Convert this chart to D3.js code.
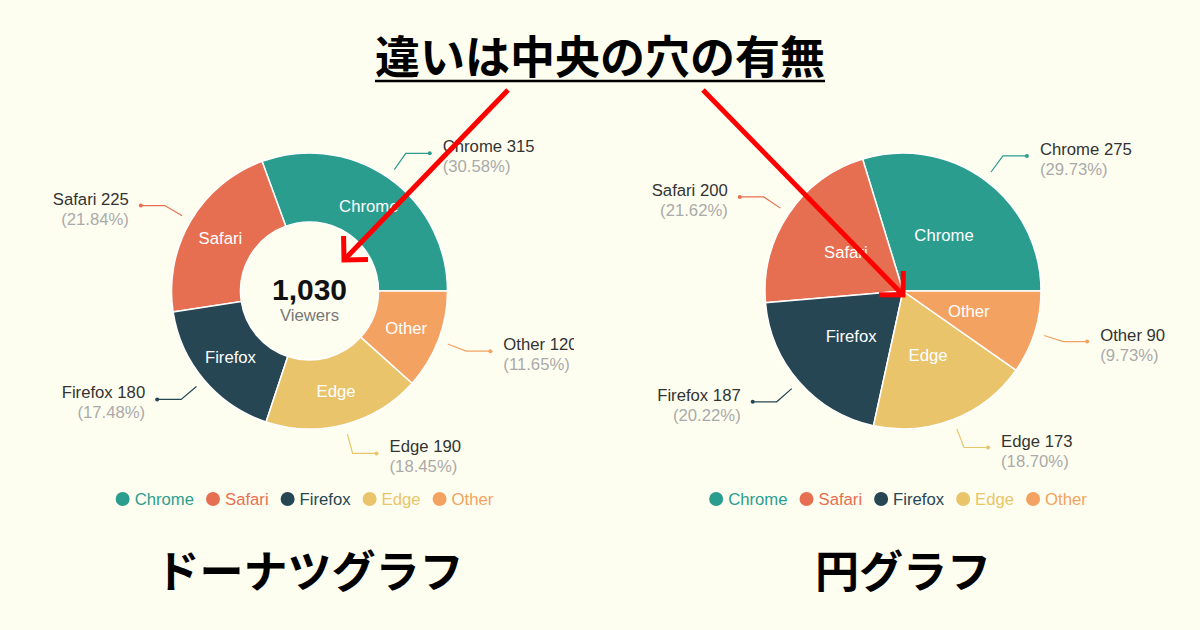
<!DOCTYPE html>
<html>
<head>
<meta charset="utf-8">
<script src="https://cdn.jsdelivr.net/npm/d3@7"></script>
<style>
  body { margin: 0; background: #fefef0; }
  svg { display: block; }
</style>
</head>
<body>
<div id="chart"></div>
<script>
const browsers = ["Chrome", "Safari", "Firefox", "Edge", "Other"];
const donutValues = [315, 225, 180, 190, 120];
const pieValues = [275, 200, 187, 173, 90];
const sliceColors = ["#2a9d8f", "#e76f51", "#264653", "#e9c46a", "#f4a261"];

const titleText = "違いは中央の穴の有無";
const donutTitle = "ドーナツグラフ";
const pieTitle = "円グラフ";
const centerLabel = "Viewers";

const width = 1200,
    height = 630,
    outerR = 138,
    chartY = 291,
    labelSize = "16.7px";

const latin = "'Liberation Sans', Arial, sans-serif";
const cjk = "'Noto Sans CJK JP', sans-serif";

const svg = d3.select("#chart")
    .append("svg")
    .attr("width", width)
    .attr("height", height);

svg.append("rect")
    .attr("width", width)
    .attr("height", height)
    .attr("fill", "#fefef0");

const color = d3.scaleOrdinal()
    .domain(browsers)
    .range(sliceColors);

const pct = d3.format(".2f");

function drawChart(values, cx, innerR, clipX0, clipX1, id, title) {
    const data = browsers.map((b, i) => ({ name: b, value: values[i] }));
    const total = d3.sum(values);

    svg.append("clipPath")
        .attr("id", id)
        .append("rect")
        .attr("x", clipX0)
        .attr("y", 0)
        .attr("width", clipX1 - clipX0)
        .attr("height", height);

    const g = svg.append("g")
        .attr("clip-path", `url(#${id})`)
        .append("g")
        .attr("transform", `translate(${cx}, ${chartY})`);

    const pie = d3.pie()
        .sort(null)
        .value(d => d.value)
        .startAngle(Math.PI / 2)
        .endAngle(Math.PI / 2 - 2 * Math.PI);
    const arcs = pie(data);

    const arc = d3.arc()
        .innerRadius(innerR)
        .outerRadius(outerR);

    g.selectAll("path.slice")
        .data(arcs)
        .join("path")
        .attr("class", "slice")
        .attr("d", arc)
        .attr("fill", d => color(d.data.name))
        .attr("stroke", "#fff")
        .style("stroke-width", "1.5px");

    g.selectAll("text.inner")
        .data(arcs)
        .join("text")
        .attr("class", "inner")
        .attr("transform", d => `translate(${arc.centroid(d)})`)
        .attr("text-anchor", "middle")
        .attr("dominant-baseline", "central")
        .style("font-family", latin)
        .style("font-size", labelSize)
        .style("fill", "#fff")
        .text(d => d.data.name);

    // leader lines + outside labels
    const pt = (a, r) => [r * Math.sin(a), -r * Math.cos(a)];
    arcs.forEach(d => {
        const mid = (d.startAngle + d.endAngle) / 2;
        const right = Math.sin(mid) >= 0;
        const p1 = pt(mid, outerR + 10);
        const p2 = pt(mid, outerR + 30);
        const p3 = [p2[0] + (right ? 24 : -24), p2[1]];
        const c = color(d.data.name);

        g.append("path")
            .attr("d", d3.line()([p1, p2, p3]))
            .attr("fill", "none")
            .attr("stroke", c)
            .style("stroke-width", "1.2px");
        g.append("circle")
            .attr("cx", p3[0])
            .attr("cy", p3[1])
            .attr("r", 2)
            .attr("fill", c);

        const tx = p3[0] + (right ? 13 : -12);
        const anchor = right ? "start" : "end";
        g.append("text")
            .attr("x", tx)
            .attr("y", p3[1] - 1)
            .attr("text-anchor", anchor)
            .style("font-family", latin)
            .style("font-size", labelSize)
            .style("fill", "#333")
            .text(d.data.name + " " + d.data.value);
        g.append("text")
            .attr("x", tx)
            .attr("y", p3[1] + 19)
            .attr("text-anchor", anchor)
            .style("font-family", latin)
            .style("font-size", labelSize)
            .style("fill", "#aaa")
            .text("(" + pct(d.data.value / total * 100) + "%)");
    });

    if (innerR > 0) {
        g.append("text")
            .attr("y", 9)
            .attr("text-anchor", "middle")
            .style("font-family", latin)
            .style("font-size", "30px")
            .style("font-weight", "bold")
            .style("fill", "#111")
            .text(d3.format(",")(total));
        g.append("text")
            .attr("y", 30)
            .attr("text-anchor", "middle")
            .style("font-family", latin)
            .style("font-size", labelSize)
            .style("fill", "#777")
            .text(centerLabel);
    }

    // legend
    const lg = svg.append("g");
    let x = 0;
    browsers.forEach(b => {
        lg.append("circle")
            .attr("cx", x + 7)
            .attr("cy", 0)
            .attr("r", 7)
            .attr("fill", color(b));
        const t = lg.append("text")
            .attr("x", x + 19)
            .attr("y", 0)
            .attr("dominant-baseline", "central")
            .style("font-family", latin)
            .style("font-size", labelSize)
            .style("fill", color(b))
            .text(b);
        x += 19 + t.node().getComputedTextLength() + 12;
    });
    const lw = x - 12;
    lg.attr("transform", `translate(${cx - 5 - lw / 2}, 499)`);

    svg.append("text")
        .attr("x", cx)
        .attr("y", 588)
        .attr("text-anchor", "middle")
        .style("font-family", cjk)
        .style("font-size", "44px")
        .style("font-weight", "bold")
        .style("fill", "#000")
        .text(title);
}

drawChart(donutValues, 309.5, 69, 42, 574, "clipL", donutTitle);
drawChart(pieValues, 903, 0, 635, 1170, "clipR", pieTitle);

// heading with underline
const heading = svg.append("text")
    .attr("x", width / 2)
    .attr("y", 74)
    .attr("text-anchor", "middle")
    .style("font-family", cjk)
    .style("font-size", "45px")
    .style("font-weight", "bold")
    .style("fill", "#000")
    .text(titleText);
const hb = heading.node().getBBox();
svg.append("line")
    .attr("x1", hb.x)
    .attr("x2", hb.x + hb.width)
    .attr("y1", 81)
    .attr("y2", 81)
    .attr("stroke", "#000")
    .style("stroke-width", "2.5px");

// red arrows
const arrows = [
    { from: [508, 90], to: [344, 260] },
    { from: [703, 90], to: [903, 295] }
];
arrows.forEach(a => {
    const ang = Math.atan2(a.from[1] - a.to[1], a.from[0] - a.to[0]);
    const head = 24, spread = Math.PI / 4;
    const h1 = [a.to[0] + head * Math.cos(ang + spread), a.to[1] + head * Math.sin(ang + spread)];
    const h2 = [a.to[0] + head * Math.cos(ang - spread), a.to[1] + head * Math.sin(ang - spread)];
    svg.append("path")
        .attr("d", d3.line()([a.from, a.to]))
        .attr("stroke", "#ff0000")
        .attr("fill", "none")
        .style("stroke-width", "5px");
    svg.append("path")
        .attr("d", d3.line()([h1, a.to, h2]))
        .attr("stroke", "#ff0000")
        .attr("fill", "none")
        .attr("stroke-linejoin", "miter")
        .style("stroke-width", "5px");
});
</script>
</body>
</html>
